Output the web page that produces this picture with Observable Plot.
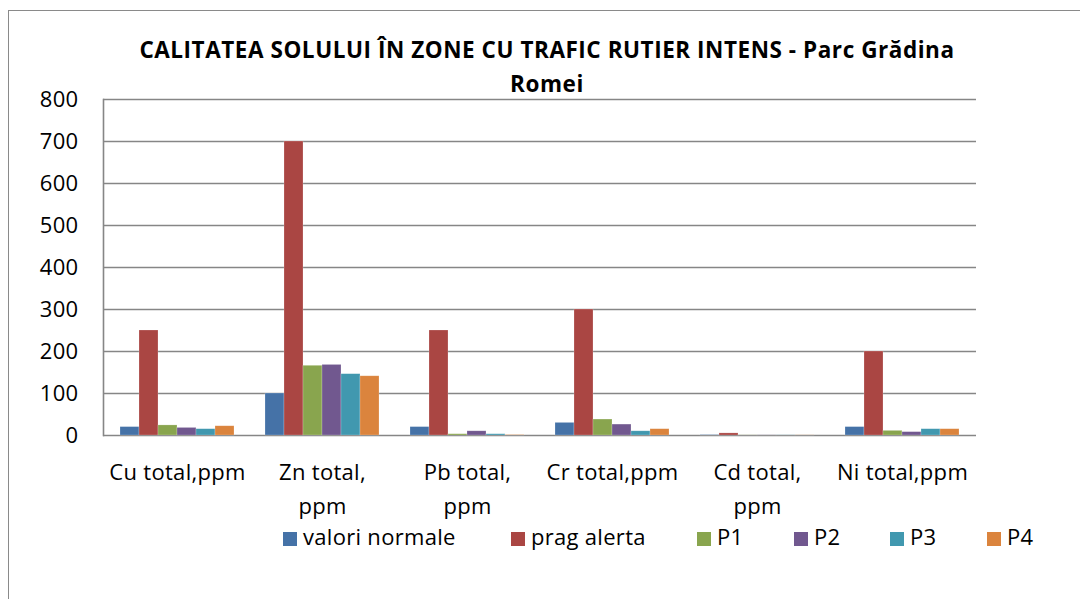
<!DOCTYPE html>
<html>
<head>
<meta charset="utf-8">
<script src="https://cdn.jsdelivr.net/npm/d3@7"></script>
<script src="https://cdn.jsdelivr.net/npm/@observablehq/plot@0.6"></script>
<style>
  html, body { margin: 0; padding: 0; background: #fff; }
  #wrap { position: relative; width: 1080px; height: 599px; overflow: hidden; font-family: "Open Sans", sans-serif; }
  #border { position: absolute; left: 8px; top: 10px; width: 1100px; height: 620px; border: 1.5px solid #8a8a8a; box-sizing: border-box; }
  #title { position: absolute; left: 0; width: 1094px; top: 33px; text-align: center; font-weight: 700; font-size: 22.5px; line-height: 34px; color: #000; letter-spacing: 0.55px; }
  .layer { position: absolute; left: 0; top: 0; }
  .layer svg { background: transparent !important; }
  #legend { position: absolute; top: 0; left: 0; width: 1080px; height: 599px; pointer-events: none; }
  .li { position: absolute; top: 520px; font-size: 22px; line-height: 32px; color: #000; white-space: nowrap; letter-spacing: 0.3px; }
  .sw { display: inline-block; width: 14px; height: 14px; margin-right: 6px; vertical-align: -1px; }
  svg text { letter-spacing: 0.3px; }
</style>
</head>
<body>
<div id="wrap">
  <div id="border"></div>
  <div id="title">CALITATEA SOLULUI ÎN ZONE CU TRAFIC RUTIER INTENS - Parc Grădina<br>Romei</div>
  <div id="grid" class="layer"></div>
  <div id="axis" class="layer"></div>
  <div id="bars" class="layer"></div>
  <div id="legend"></div>
</div>
<script>
// ---- data ----
const categories = ["Cu total,ppm", "Zn total, ppm", "Pb total, ppm", "Cr total,ppm", "Cd total, ppm", "Ni total,ppm"];
const tickLabels = ["Cu total,ppm", "Zn total,\nppm", "Pb total,\nppm", "Cr total,ppm", "Cd total,\nppm", "Ni total,ppm"];
const seriesNames = ["valori normale", "prag alerta", "P1", "P2", "P3", "P4"];
const valoriNormale = [20, 100, 20, 30, 1, 20];
const pragAlerta = [250, 700, 250, 300, 5, 200];
const p1 = [24, 166, 3, 38, 0.3, 11];
const p2 = [18, 168, 10, 26, 0.3, 8];
const p3 = [15, 146, 3, 10, 0.3, 15];
const p4 = [22, 141, 1, 15, 0.3, 15];
const yTicks = [0, 100, 200, 300, 400, 500, 600, 700, 800];
const colors = ["#4572A7", "#AA4643", "#89A54E", "#71588F", "#4198AF", "#DB843D"];

const seriesValues = [valoriNormale, pragAlerta, p1, p2, p3, p4];
const rows = [];
categories.forEach((c, i) => {
  seriesNames.forEach((s, j) => rows.push({category: c, series: s, value: seriesValues[j][i]}));
});

const W = 1080, H = 599;
const margins = {marginTop: 99, marginBottom: 164, marginLeft: 103, marginRight: 104};
const font = '"Open Sans", sans-serif';

// ---- layer 1: gridlines, y tick labels, category labels ----
const grid = Plot.plot({
  width: W, height: H, ...margins,
  style: {fontFamily: font, background: "transparent"},
  x: {type: "band", domain: categories, paddingInner: 0.2, paddingOuter: 0.1, axis: null},
  y: {domain: [0, 800], axis: null},
  marks: [
    Plot.ruleY(yTicks, {stroke: "#868686", strokeWidth: 1.6}),
    Plot.text(yTicks, {y: d => d, text: d => String(d), frameAnchor: "left", textAnchor: "end", dx: -25, fontSize: 22, fill: "#000"}),
    Plot.text(categories, {x: d => d, text: (d, i) => tickLabels[i], frameAnchor: "bottom", lineAnchor: "top", dy: 20, fontSize: 22, lineHeight: 1.55, fill: "#000"})
  ]
});
document.getElementById("grid").append(grid);

// left axis line along the frame
const axisLine = Plot.plot({
  width: W, height: H, ...margins,
  style: {background: "transparent"},
  y: {domain: [0, 800], axis: null},
  marks: [Plot.frame({anchor: "left", stroke: "#868686", strokeWidth: 1.6})]
});
document.getElementById("axis").append(axisLine);

// ---- layer 2: grouped bars ----
const bars = Plot.plot({
  width: W, height: H, ...margins,
  style: {fontFamily: font, background: "transparent"},
  fx: {domain: categories, paddingInner: 0.2, paddingOuter: 0.1, axis: null, label: null},
  x: {domain: seriesNames, padding: 0, axis: null},
  y: {domain: [0, 800], axis: null},
  color: {domain: seriesNames, range: colors},
  marks: [
    Plot.barY(rows, {fx: "category", x: "series", y: "value", fill: "series", inset: 0, stroke: "#ffffff", strokeOpacity: 0.35, strokeWidth: 0.6})
  ]
});
document.getElementById("bars").append(bars);

// ---- legend ----
const legendLeft = [283, 511, 697, 794, 890, 987];
const leg = document.getElementById("legend");
seriesNames.forEach((s, i) => {
  const d = document.createElement("div");
  d.className = "li";
  d.style.left = legendLeft[i] + "px";
  d.innerHTML = `<span class="sw" style="background:${colors[i]}"></span>${s}`;
  leg.append(d);
});
</script>
</body>
</html>
